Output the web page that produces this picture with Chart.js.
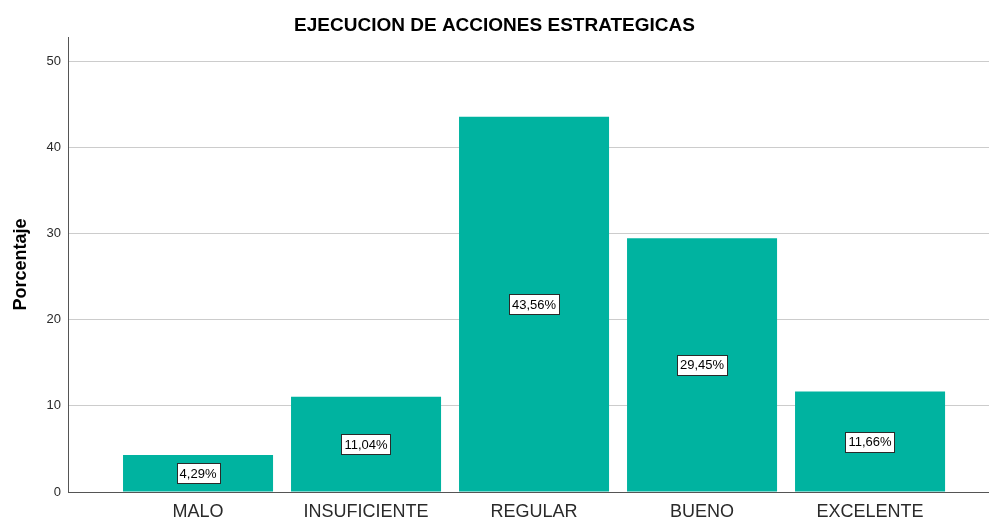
<!DOCTYPE html>
<html>
<head>
<meta charset="utf-8">
<script src="https://cdn.jsdelivr.net/npm/chart.js@4/dist/chart.umd.min.js"></script>
<style>
  html, body { margin: 0; padding: 0; background: #fff; }
  #wrap { width: 989px; height: 517px; }
</style>
</head>
<body>
<div id="wrap"><canvas id="myBarChart"></canvas></div>
<script>
// Data
const categories = ['MALO', 'INSUFICIENTE', 'REGULAR', 'BUENO', 'EXCELENTE'];
const percentages = [4.29, 11.04, 43.56, 29.45, 11.66];
const yTicks = [0, 10, 20, 30, 40, 50];

const barColor = '#00b3a0';

// Small white boxes with the percentage, in the middle of each bar
const valueBoxes = {
    id: 'valueBoxes',
    afterDatasetsDraw(chart) {
        const ctx = chart.ctx;
        const meta = chart.getDatasetMeta(0);
        ctx.save();
        ctx.font = '13px "Liberation Sans", Arial, sans-serif';
        ctx.textAlign = 'center';
        ctx.textBaseline = 'middle';
        meta.data.forEach(function(bar, i) {
            const text = percentages[i].toFixed(2).replace('.', ',') + '%';
            const cx = bar.x;
            const cy = (bar.y + bar.base) / 2;
            const w = ctx.measureText(text).width + 6;
            const h = 20;
            const x0 = Math.round(cx - w / 2) + 0.5;
            const y0 = Math.round(cy - h / 2) + 0.5;
            ctx.fillStyle = '#ffffff';
            ctx.fillRect(x0, y0, Math.round(w), h);
            ctx.strokeStyle = '#2a2a2a';
            ctx.lineWidth = 1;
            ctx.strokeRect(x0, y0, Math.round(w), h);
            ctx.fillStyle = '#000000';
            ctx.fillText(text, cx, cy + 1);
        });
        ctx.restore();
    }
};

const data = {
    datasets: [{
        label: 'Porcentaje',
        backgroundColor: barColor,
        borderWidth: 0,
        barPercentage: 0.893,
        categoryPercentage: 1,
        data: percentages.map(function(v, i) { return { x: i, y: v }; })
    }]
};

const config = {
    type: 'bar',
    data: data,
    options: {
        responsive: true,
        maintainAspectRatio: false,
        animation: false,
        layout: { padding: 0 },
        plugins: {
            legend: { display: false },
            tooltip: { enabled: false },
            title: {
                display: true,
                text: 'EJECUCION DE ACCIONES ESTRATEGICAS',
                color: '#000000',
                font: { family: '"Liberation Sans", Arial, sans-serif', size: 19, weight: 'bold', lineHeight: 1.0 },
                padding: { top: 16.5, bottom: 1.5 }
            }
        },
        scales: {
            x: {
                type: 'linear',
                min: -0.774,
                max: 4.708,
                offset: false,
                grid: { display: false, drawTicks: false },
                border: { display: true, color: '#555555', width: 1 },
                afterBuildTicks: function(scale) {
                    scale.ticks = categories.map(function(c, i) { return { value: i }; });
                },
                afterFit: function(scale) { scale.height = 25; },
                ticks: {
                    autoSkip: false,
                    maxRotation: 0,
                    padding: 9,
                    color: '#2a2a2a',
                    font: { family: '"Liberation Sans", Arial, sans-serif', size: 18 },
                    callback: function(value) { return categories[value]; }
                }
            },
            y: {
                min: 0,
                max: 52.8,
                grid: { color: '#cccccc', lineWidth: 1, drawTicks: false },
                border: { display: true, color: '#555555', width: 1 },
                afterBuildTicks: function(scale) {
                    scale.ticks = yTicks.map(function(v) { return { value: v }; });
                },
                afterFit: function(scale) { scale.width = 68; },
                ticks: {
                    padding: 7,
                    color: '#2a2a2a',
                    font: { family: '"Liberation Sans", Arial, sans-serif', size: 13 }
                },
                title: {
                    display: true,
                    text: 'Porcentaje',
                    color: '#000000',
                    font: { family: '"Liberation Sans", Arial, sans-serif', size: 18, weight: 'bold', lineHeight: 1.2 },
                    padding: { top: 10, bottom: 0 }
                }
            }
        }
    },
    plugins: [valueBoxes]
};

const canvas = document.getElementById('myBarChart');
var myChart = new Chart(canvas, config);
</script>
</body>
</html>
